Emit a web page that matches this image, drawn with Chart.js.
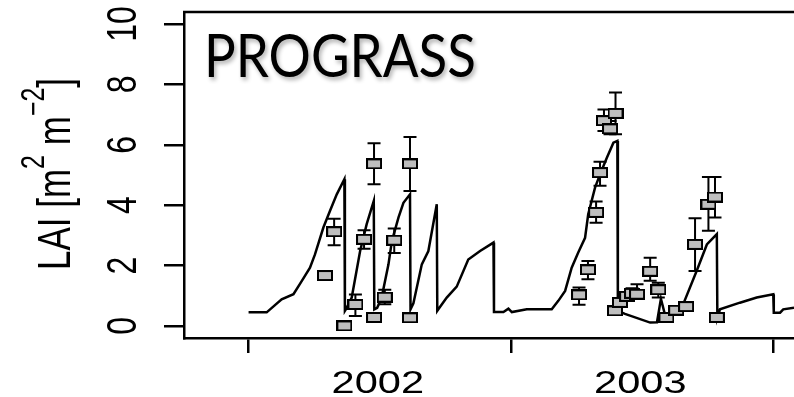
<!DOCTYPE html>
<html>
<head>
<meta charset="utf-8">
<script src="https://cdn.jsdelivr.net/npm/chart.js@4.4.1/dist/chart.umd.min.js"></script>
<style>
  html, body { margin: 0; padding: 0; background: #fff; }
  #wrap { width: 794px; height: 397px; position: relative; }
</style>
</head>
<body>
<div id="wrap"><canvas id="laiChart"></canvas></div>
<script>
// simulated LAI (decimal year, m2/m2)
const simX = [2002.000, 2002.069, 2002.126, 2002.171, 2002.203, 2002.234, 2002.253, 2002.285, 2002.310, 2002.336,
  2002.365, 2002.367, 2002.374, 2002.393, 2002.425, 2002.450, 2002.477, 2002.479, 2002.490, 2002.507,
  2002.533, 2002.546, 2002.571, 2002.590, 2002.615, 2002.617, 2002.628, 2002.660, 2002.685, 2002.717,
  2002.719, 2002.723, 2002.755, 2002.793, 2002.837, 2002.882, 2002.933, 2002.935, 2002.971, 2002.990,
  2003.003, 2003.060, 2003.155, 2003.180, 2003.206, 2003.231, 2003.256, 2003.282, 2003.294, 2003.320,
  2003.339, 2003.365, 2003.390, 2003.405, 2003.407, 2003.434, 2003.530, 2003.556, 2003.571, 2003.587,
  2003.625, 2003.656, 2003.707, 2003.746, 2003.784, 2003.786, 2003.796, 2003.872, 2003.936, 2003.999,
  2004.001, 2004.025, 2004.037, 2004.078];
const simLAI = [0.45, 0.45, 0.88, 1.05, 1.49, 1.93, 2.37, 3.26, 3.81, 4.36,
  4.86, 0.50, 0.60, 0.94, 2.48, 3.37, 4.14, 0.55, 0.60, 0.94,
  2.04, 2.81, 3.59, 4.08, 4.36, 0.55, 0.75, 2.04, 2.48, 4.03,
  0.50, 0.55, 0.94, 1.30, 2.20, 2.48, 2.76, 0.46, 0.46, 0.57,
  0.46, 0.55, 0.55, 0.83, 1.16, 1.93, 2.43, 2.92, 3.70, 4.58,
  5.02, 5.57, 6.07, 6.13, 0.50, 0.40, 0.11, 0.12, 0.90, 0.35,
  0.40, 0.72, 1.82, 2.70, 3.04, 0.27, 0.55, 0.77, 0.94, 1.05,
  0.44, 0.44, 0.55, 0.60];

// observed LAI with error bars (null = no bar)
const obsX = [2002.291, 2002.326, 2002.365, 2002.407, 2002.440, 2002.478, 2002.478, 2002.519, 2002.555, 2002.615,
  2002.615, 2003.259, 2003.293, 2003.324, 2003.339, 2003.354, 2003.377, 2003.398, 2003.396, 2003.415,
  2003.442, 2003.461, 2003.480, 2003.530, 2003.561, 2003.592, 2003.629, 2003.667, 2003.701, 2003.752,
  2003.777, 2003.784];
const obsLAI = [1.67, 3.12, 0.00, 0.71, 2.87, 5.37, 0.28, 0.95, 2.84, 5.37,
  0.27, 1.03, 1.86, 3.76, 5.08, 6.80, 6.53, 7.04, 0.50, 0.78,
  0.98, 1.08, 1.05, 1.81, 1.20, 0.28, 0.52, 0.64, 2.70, 4.03,
  4.27, 0.28];
const obsLo = [null, 2.67, null, 0.33, 2.56, 4.69, null, 0.72, 2.42, 4.47,
  null, 0.70, 1.55, 3.42, 4.64, 6.46, 6.35, 6.35, null, 0.65,
  0.85, 0.95, 0.90, 1.50, 0.94, null, 0.42, null, 1.82, 3.15,
  3.59, null];
const obsHi = [null, 3.55, null, 1.04, 3.17, 6.05, null, 1.20, 3.23, 6.26,
  null, 1.27, 2.15, 4.12, 5.44, 7.17, 6.79, 7.73, null, 0.90,
  1.10, 1.25, 1.38, 2.26, 1.43, null, 0.62, null, 3.57, 4.93,
  4.93, null];

const yTicks = [0, 2, 4, 6, 8, 10];
const xTicks = [2002, 2003, 2004];
const yearLabels = ['2002', '2003'];
const yearLabelPos = [2002.5, 2003.5];

const SX = 1.3; // picture is stretched horizontally

function makeBox(w, h) {
    const c = document.createElement('canvas');
    c.width = w; c.height = h;
    const g = c.getContext('2d');
    g.fillStyle = '#bebebe';
    g.fillRect(0, 0, w, h);
    g.strokeStyle = '#000';
    g.lineWidth = 2;
    g.strokeRect(1, 1, w - 2, h - 2);
    return c;
}

const rStyle = {
    id: 'rStyle',
    afterDatasetDraw(chart, args) {
        if (args.index !== 1) return;
        const ctx = chart.ctx, xs = chart.scales.x, ys = chart.scales.y;
        ctx.save();
        ctx.strokeStyle = '#000';
        ctx.lineWidth = 2;
        obsX.forEach((x, i) => {
            if (obsLo[i] === null) return;
            const px = xs.getPixelForValue(x);
            const p1 = ys.getPixelForValue(obsLo[i]);
            const p2 = ys.getPixelForValue(obsHi[i]);
            ctx.beginPath();
            ctx.moveTo(px, p1); ctx.lineTo(px, p2);
            ctx.moveTo(px - 6.5, p1); ctx.lineTo(px + 6.5, p1);
            ctx.moveTo(px - 6.5, p2); ctx.lineTo(px + 6.5, p2);
            ctx.stroke();
        });
        ctx.restore();
    },
    afterDraw(chart) {
        const ctx = chart.ctx, xs = chart.scales.x, ys = chart.scales.y;
        const area = chart.chartArea;
        ctx.save();
        // top of box
        ctx.strokeStyle = '#000';
        ctx.lineWidth = 2.5;
        ctx.beginPath();
        ctx.moveTo(area.left - 1, area.top);
        ctx.lineTo(area.right, area.top);
        ctx.stroke();

        ctx.fillStyle = '#000';
        // x labels
        ctx.font = '32px "Liberation Sans", Arial, sans-serif';
        ctx.textAlign = 'center';
        ctx.textBaseline = 'alphabetic';
        yearLabels.forEach((t, i) => {
            ctx.save();
            ctx.translate(xs.getPixelForValue(yearLabelPos[i]) - 2, 393);
            ctx.scale(SX, 1);
            ctx.fillText(t, 0, 0);
            ctx.restore();
        });
        // y labels, rotated
        yTicks.forEach(v => {
            ctx.save();
            ctx.translate(136, ys.getPixelForValue(v));
            ctx.scale(SX, 1);
            ctx.rotate(-Math.PI / 2);
            ctx.fillText(String(v), 0, 0);
            ctx.restore();
        });
        // y title with superscripts
        const parts = [
            { t: 'LAI [m', sup: false },
            { t: '2', sup: true },
            { t: ' m', sup: false },
            { t: '\u22122', sup: true },
            { t: ']', sup: false }
        ];
        const big = '35px "Liberation Sans", Arial, sans-serif';
        const small = '25px "Liberation Sans", Arial, sans-serif';
        let total = 0;
        parts.forEach(p => {
            ctx.font = p.sup ? small : big;
            p.w = ctx.measureText(p.t).width;
            total += p.w;
        });
        ctx.save();
        ctx.translate(70, 174);
        ctx.scale(SX, 1);
        ctx.rotate(-Math.PI / 2);
        ctx.textAlign = 'left';
        let u = -total / 2;
        parts.forEach(p => {
            ctx.font = p.sup ? small : big;
            ctx.fillText(p.t, u, p.sup ? -20 : 0);
            u += p.w;
        });
        ctx.restore();

        // PROGRASS tag
        ctx.font = '60px Lato, "Open Sans", sans-serif';
        ctx.textAlign = 'left';
        const w = ctx.measureText('PROGRASS').width;
        ctx.save();
        ctx.translate(204, 77);
        ctx.scale(272 / w, 1);
        ctx.shadowColor = 'rgba(0,0,0,0.3)';
        ctx.shadowOffsetX = 2;
        ctx.shadowOffsetY = 3;
        ctx.shadowBlur = 4;
        ctx.fillStyle = '#000';
        ctx.fillText('PROGRASS', 0, 0);
        ctx.restore();
        ctx.restore();
    }
};

const ctx = document.getElementById('laiChart').getContext('2d');
new Chart(ctx, {
    type: 'scatter',
    data: {
        datasets: [{
            label: 'observed',
            data: obsX.map((x, i) => ({ x: x, y: obsLAI[i] })),
            pointStyle: makeBox(16, 11),
            pointRadius: 8,
            showLine: false
        }, {
            label: 'simulated',
            data: simX.map((x, i) => ({ x: x, y: simLAI[i] })),
            showLine: true,
            borderColor: '#000',
            borderWidth: 2.5,
            pointRadius: 0,
            tension: 0,
            fill: false
        }]
    },
    options: {
        responsive: true,
        maintainAspectRatio: false,
        animation: false,
        layout: { autoPadding: false, padding: { top: 12, right: 0, left: 0, bottom: 0 } },
        plugins: {
            legend: { display: false },
            tooltip: { enabled: false }
        },
        scales: {
            x: {
                type: 'linear',
                min: 2001.754,
                max: 2004.078,
                afterBuildTicks: s => { s.ticks = xTicks.map(v => ({ value: v })); },
                afterFit: s => { s.height = 59; },
                ticks: { display: false },
                grid: { drawOnChartArea: false, color: '#000', lineWidth: 2.5, tickLength: 15 },
                border: { display: true, color: '#000', width: 2.5 }
            },
            y: {
                min: -0.4,
                max: 10.4,
                afterBuildTicks: s => { s.ticks = yTicks.map(v => ({ value: v })); },
                afterFit: s => { s.width = 184; },
                ticks: { display: false },
                grid: { drawOnChartArea: false, color: '#000', lineWidth: 2.5, tickLength: 20 },
                border: { display: true, color: '#000', width: 2.5 }
            }
        }
    },
    plugins: [rStyle]
});
</script>
</body>
</html>
